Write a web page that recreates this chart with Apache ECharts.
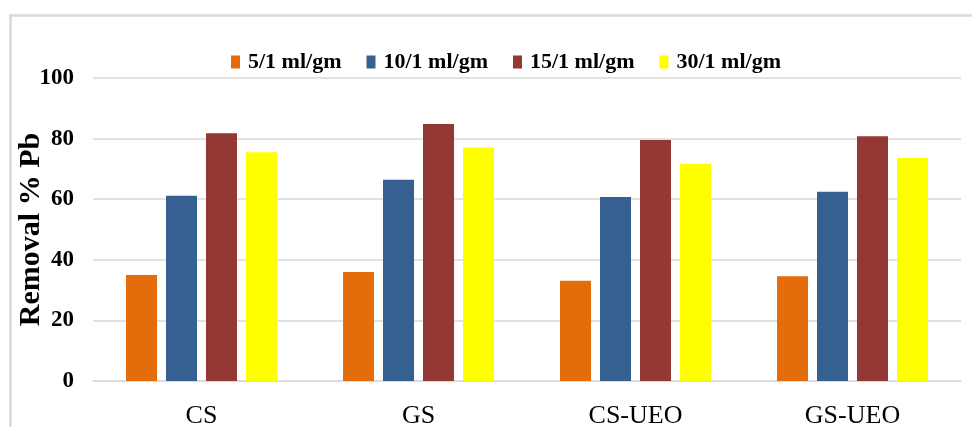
<!DOCTYPE html>
<html>
<head>
<meta charset="utf-8">
<script src="https://cdn.jsdelivr.net/npm/echarts@6/dist/echarts.min.js"></script>
<style>html,body{margin:0;padding:0;background:#fff;}#c{width:972px;height:427px;}</style>
</head>
<body>
<div id="c"></div>
<script>
var categories = ['CS', 'GS', 'CS-UEO', 'GS-UEO'];
var seriesNames = ['5/1 ml/gm', '10/1 ml/gm', '15/1 ml/gm', '30/1 ml/gm'];
var ratio5 = [35.0, 36.0, 33.1, 34.6];
var ratio10 = [61.1, 66.4, 60.7, 62.5];
var ratio15 = [81.8, 84.8, 79.5, 80.8];
var ratio30 = [75.5, 77.1, 71.7, 73.6];
var yTicks = [0, 20, 40, 60, 80, 100];
var colors = ['#E46C0A', '#376092', '#953735', '#FFFF00'];
var seriesData = [ratio5, ratio10, ratio15, ratio30];

var font = '"Liberation Serif", "Times New Roman", serif';
var chart = echarts.init(document.getElementById('c'));
chart.setOption({
  animation: false,
  backgroundColor: '#fff',
  graphic: [{
    type: 'rect', left: 8, top: 13, z: -1,
    shape: { width: 1100, height: 600 },
    style: { fill: 'none', stroke: '#d9d9d9', lineWidth: 2.5 }
  }],
  legend: {
    left: 226, top: 46,
    itemWidth: 9, itemHeight: 13, itemGap: 25,
    icon: 'rect',
    textStyle: { fontFamily: font, fontWeight: 'bold', fontSize: 22, color: '#000', padding: [0, 0, 0, 3] },
    data: seriesNames
  },
  grid: { left: 93, right: 11, top: 78, bottom: 46, containLabel: false, outerBoundsMode: 'none' },
  xAxis: {
    type: 'category', data: categories,
    axisLine: { lineStyle: { color: '#d9d9d9', width: 1.5 } },
    axisTick: { show: false },
    axisLabel: { fontFamily: font, fontSize: 26, color: '#000', margin: 22 }
  },
  yAxis: {
    type: 'value', min: 0, max: 100, interval: 20,
    name: 'Removal % Pb', nameLocation: 'middle', nameGap: 47, nameRotate: 90,
    nameMoveOverlap: false,
    nameTextStyle: { fontFamily: font, fontWeight: 'bold', fontSize: 30, color: '#000' },
    axisLine: { show: false }, axisTick: { show: false },
    axisLabel: {
      fontFamily: font, fontWeight: 'bold', fontSize: 23, color: '#000', margin: 19,
      formatter: function (v) { return yTicks.indexOf(v) >= 0 ? String(v) : ''; }
    },
    splitLine: { lineStyle: { color: '#d9d9d9', width: 1.5 } }
  },
  series: seriesNames.map(function (n, i) {
    return {
      name: n, type: 'bar', data: seriesData[i],
      barWidth: 31, barGap: '29%',
      itemStyle: { color: colors[i] }
    };
  })
});
</script>
</body>
</html>
